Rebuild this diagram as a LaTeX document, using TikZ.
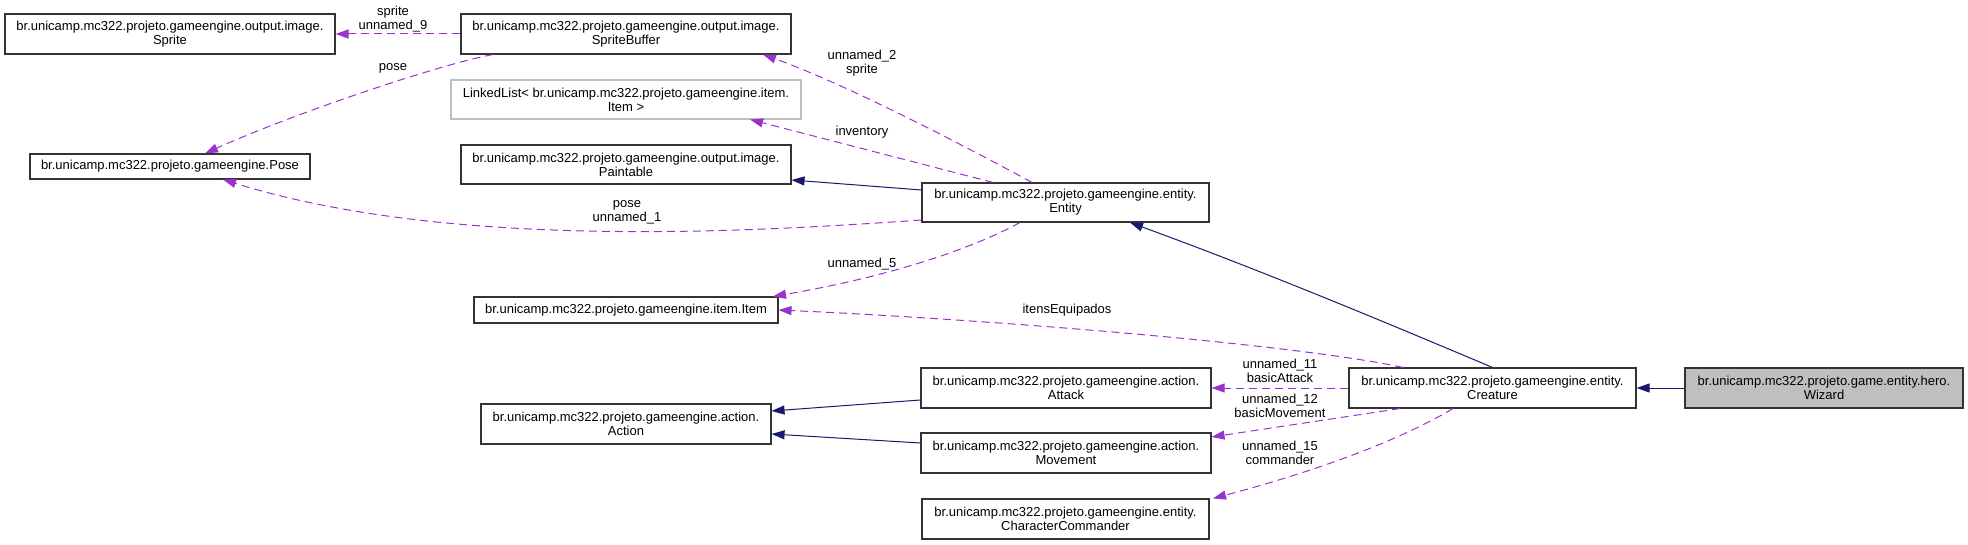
\documentclass[tikz,border=0pt]{standalone}
\usepackage{fontspec}
\setmainfont{Liberation Sans}
\usepackage{tikz}
\usetikzlibrary{arrows.meta}

\definecolor{usecol}{HTML}{9A32CD}
\definecolor{inhcol}{HTML}{191970}
\definecolor{boxcol}{HTML}{333333}

\begin{document}
\begin{tikzpicture}[x=1pt, y=-1pt,
		every node/.style={font=\fontsize{13}{14}\selectfont, align=center, inner sep=0pt},
		cls/.style={draw=boxcol, line width=1.1pt, fill=white},
		usage/.style={usecol, line width=1pt, dash pattern=on 8pt off 5pt, -{Triangle[length=13pt, width=9pt]}},
		inherit/.style={inhcol, line width=1pt, -{Triangle[length=13pt, width=9pt]}},
		lbl/.style={}]
		%bounding box
		\useasboundingbox (0,0) rectangle (1968,545);
		
		%classes
		\node [cls, minimum width=330, minimum height=40] (sprite) at (170,34) {br.unicamp.mc322.projeto.gameengine.output.image.\\Sprite};
		\node [cls, minimum width=280, minimum height=25] (pose) at (170,166.5) {br.unicamp.mc322.projeto.gameengine.Pose};
		\node [cls, minimum width=330, minimum height=40] (spritebuf) at (626,34) {br.unicamp.mc322.projeto.gameengine.output.image.\\SpriteBuffer};
		\node [cls, draw=black!25, minimum width=350, minimum height=39] (itemlist) at (626,99.5) {LinkedList< br.unicamp.mc322.projeto.gameengine.item.\\Item >};
		\node [cls, minimum width=330, minimum height=39] (paintable) at (626,164.5) {br.unicamp.mc322.projeto.gameengine.output.image.\\Paintable};
		\node [cls, minimum width=287, minimum height=39] (entity) at (1065.5,202.5) {br.unicamp.mc322.projeto.gameengine.entity.\\Entity};
		\node [cls, minimum width=304, minimum height=26] (item) at (626,310) {br.unicamp.mc322.projeto.gameengine.item.Item};
		\node [cls, minimum width=290, minimum height=40] (action) at (626,424) {br.unicamp.mc322.projeto.gameengine.action.\\Action};
		\node [cls, minimum width=290, minimum height=40] (attack) at (1066,388) {br.unicamp.mc322.projeto.gameengine.action.\\Attack};
		\node [cls, minimum width=290, minimum height=40] (movement) at (1066,453) {br.unicamp.mc322.projeto.gameengine.action.\\Movement};
		\node [cls, minimum width=287, minimum height=40] (commander) at (1065.5,519) {br.unicamp.mc322.projeto.gameengine.entity.\\CharacterCommander};
		\node [cls, minimum width=287, minimum height=40] (creature) at (1492.5,388) {br.unicamp.mc322.projeto.gameengine.entity.\\Creature};
		\node [cls, fill=black!25, minimum width=278, minimum height=40] (wizard) at (1824,388) {br.unicamp.mc322.projeto.game.entity.hero.\\Wizard};
		
		%inheritance
		\draw [inherit] (wizard.west) -- (creature.west -| creature.east);
		\draw [inherit] (creature.north) .. controls (1380,320) and (1260,270) .. ([xshift=64.5]entity.south);
		\draw [inherit] ([yshift=12.5]entity.west) -- ([yshift=-15.5]paintable.east);
		\draw [inherit] ([yshift=-12]attack.west) -- ([yshift=13]action.east);
		\draw [inherit] ([yshift=10]movement.west) -- ([yshift=-10]action.east);
		
		%usage
		\draw [usage] (spritebuf.west) -- (sprite.east);
		\draw [usage] ([xshift=-133]spritebuf.south) .. controls (440,64) and (290,115) .. ([xshift=35]pose.north);
		\draw [usage] ([xshift=-33.5]entity.north) .. controls (950,138) and (840,82) .. ([xshift=137]spritebuf.south);
		\draw [usage] ([xshift=-72.5]entity.north) -- ([xshift=124]itemlist.south);
		\draw [usage] ([yshift=-17.5]entity.west) .. controls (750,232) and (450,250) .. ([xshift=53]pose.south);
		\draw [usage] ([xshift=-45.5]entity.south) .. controls (960,255) and (870,280) .. ([xshift=147]item.north);
		\draw [usage] ([xshift=-89.5]creature.north) .. controls (1300,345) and (1000,320) .. (item.east);
		\draw [usage] (creature.west) -- (attack.east);
		\draw [usage] ([xshift=-92.5]creature.south) -- ([yshift=16]movement.east);
		\draw [usage] ([xshift=-39.5]creature.south) .. controls (1400,440) and (1320,470) .. ([xshift=147.5]commander.north);
		
		%labels
		\node [lbl] (l-sprite) at (393,19) {sprite\\unnamed\_9};
		\node [lbl] (l-pose) at (393,68) {pose};
		\node [lbl] (l-buf) at (862,63) {unnamed\_2\\sprite};
		\node [lbl] (l-inv) at (862,132) {inventory};
		\node [lbl] (l-pose2) at (627,212) {pose\\unnamed\_1};
		\node [lbl] (l-item) at (862,264) {unnamed\_5};
		\node [lbl] (l-equip) at (1067,310) {itensEquipados};
		\node [lbl] (l-attack) at (1280,371) {unnamed\_11\\basicAttack};
		\node [lbl] (l-move) at (1280,406) {unnamed\_12\\basicMovement};
		\node [lbl] (l-cmd) at (1280,453) {unnamed\_15\\commander};
	\end{tikzpicture}
\end{document}
